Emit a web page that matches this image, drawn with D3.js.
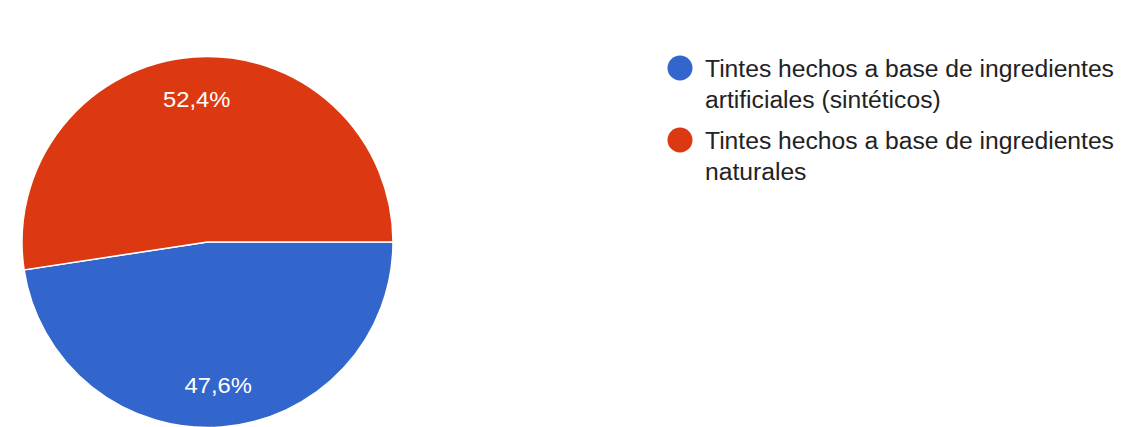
<!DOCTYPE html>
<html>
<head>
<meta charset="utf-8">
<script src="https://cdn.jsdelivr.net/npm/d3@7"></script>
<style>
  html, body { margin: 0; padding: 0; background: #ffffff; }
  svg { display: block; }
</style>
</head>
<body>
<svg id="chart" width="1123" height="427"></svg>
<script>
// Survey answers and their shares (percent)
const categories = [
  "Tintes hechos a base de ingredientes artificiales (sintéticos)",
  "Tintes hechos a base de ingredientes naturales"
];
const legendLines = [
  ["Tintes hechos a base de ingredientes", "artificiales (sintéticos)"],
  ["Tintes hechos a base de ingredientes", "naturales"]
];
const shares = [47.6, 52.4];
const colors = ["#3366cc", "#dc3912"];

const svg = d3.select("#chart");
const fontFamily = "'Liberation Sans', Arial, sans-serif";

const cx = 207.5, cy = 242, radius = 185.5;

// Slices start at 3 o'clock and run clockwise
const pie = d3.pie()
  .sort(null)
  .value(d => d)
  .startAngle(Math.PI / 2)
  .endAngle(Math.PI / 2 + 2 * Math.PI);

const arcs = pie(shares);
const arc = d3.arc().innerRadius(0).outerRadius(radius);
const labelArc = d3.arc().innerRadius(143).outerRadius(143);

const g = svg.append("g").attr("transform", `translate(${cx},${cy})`);

g.selectAll("path.slice")
  .data(arcs)
  .join("path")
  .attr("class", "slice")
  .attr("d", arc)
  .attr("fill", (d, i) => colors[i])
  .attr("stroke", "#ffffff")
  .attr("stroke-width", 1.5);

const fmt = v => d3.format(".1f")(v).replace(".", ",") + "%";

// Percentage labels, slightly widened
g.selectAll("text.pct")
  .data(arcs)
  .join("text")
  .attr("class", "pct")
  .attr("transform", d => {
    const [x, y] = labelArc.centroid(d);
    return `translate(${x},${y}) scale(1.08,1)`;
  })
  .attr("dy", "0.36em")
  .attr("text-anchor", "middle")
  .attr("font-family", fontFamily)
  .attr("font-size", 22)
  .attr("fill", "#ffffff")
  .text(d => fmt(d.data));

// Legend
const legend = svg.append("g").attr("transform", "translate(680,68)");
const item = legend.selectAll("g.item")
  .data(categories)
  .join("g")
  .attr("class", "item")
  .attr("transform", (d, i) => `translate(0,${i * 72})`);

item.append("circle")
  .attr("r", 12.5)
  .attr("fill", (d, i) => colors[i]);

item.each(function(d, i) {
  const t = d3.select(this).append("text")
    .attr("transform", "translate(25,0) scale(1.05,1)")
    .attr("font-family", fontFamily)
    .attr("font-size", 23.5)
    .attr("fill", "#222222");
  legendLines[i].forEach((line, j) => {
    t.append("tspan")
      .attr("x", 0)
      .attr("y", 9 + j * 31)
      .text(line);
  });
});
</script>
</body>
</html>
